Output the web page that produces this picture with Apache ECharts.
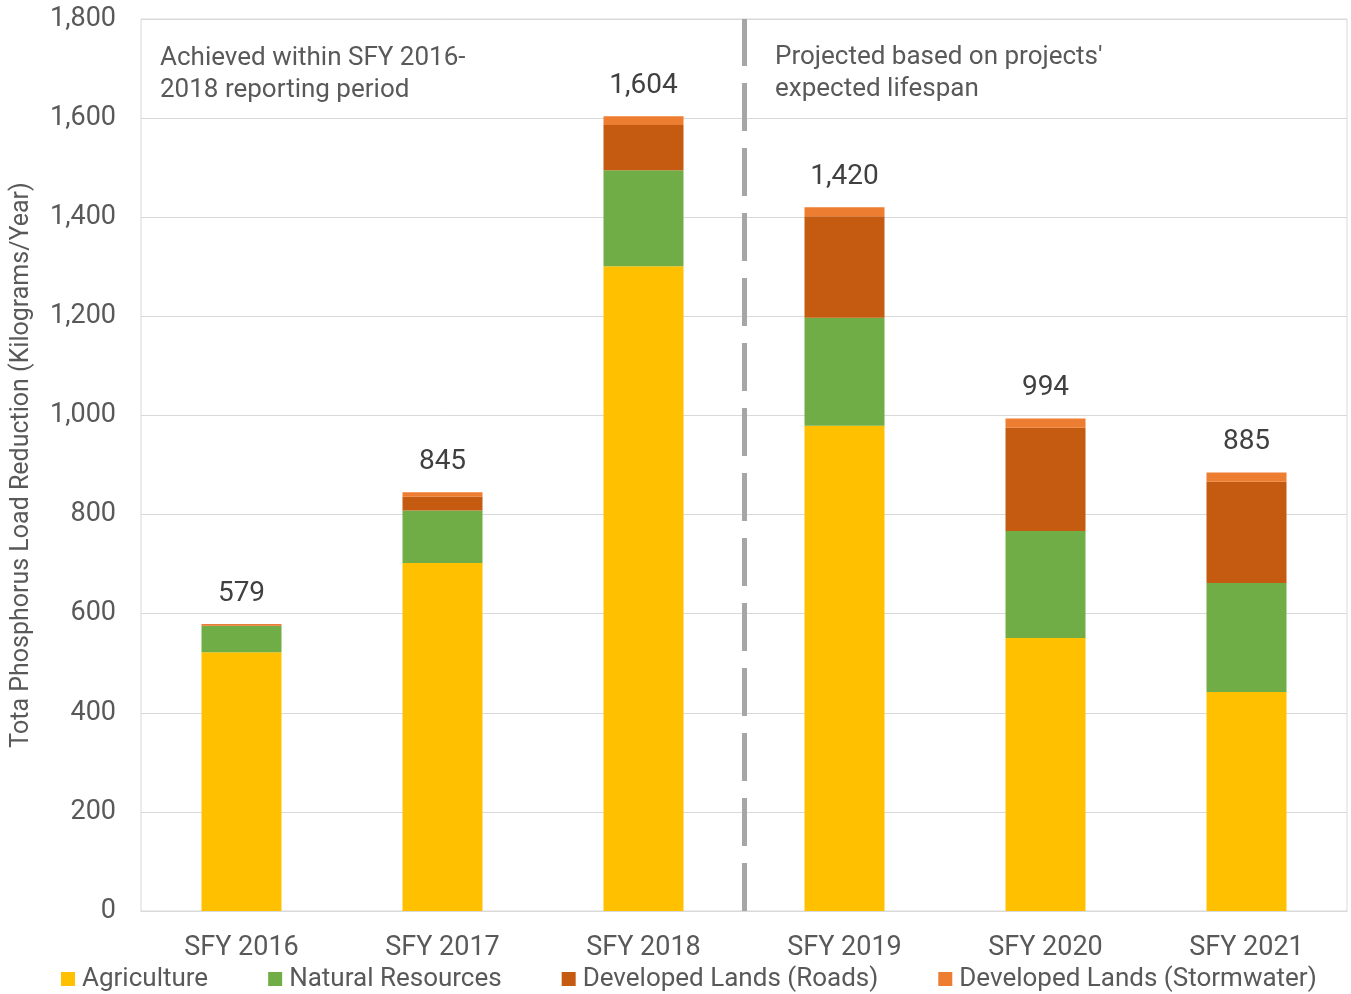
<!DOCTYPE html>
<html>
<head>
<meta charset="utf-8">
<script src="https://cdn.jsdelivr.net/npm/echarts@6/dist/echarts.min.js"></script>
<style>
html, body { margin: 0; padding: 0; background: #fff; }
#chart { width: 1351px; height: 994px; }
</style>
</head>
<body>
<div id="chart"></div>
<script>
// data
const years = ['SFY 2016', 'SFY 2017', 'SFY 2018', 'SFY 2019', 'SFY 2020', 'SFY 2021']
const agriculture = [522, 702, 1301, 979, 551, 442]
const naturalResources = [53, 106, 194, 218, 216, 220]
const roads = [1, 28, 91, 205, 208, 204]
const stormwater = [3, 9, 18, 18, 19, 19]
const totals = [579, 845, 1604, 1420, 994, 885]
const yTicks = [0, 200, 400, 600, 800, 1000, 1200, 1400, 1600, 1800]

const font = 'Roboto'

const chart = echarts.init(document.getElementById('chart'))

function barSeries(name, data, color, extra) {
    return Object.assign({
        name: name,
        type: 'bar',
        stack: 'total',
        data: data,
        barWidth: 80,
        itemStyle: { color: color },
        emphasis: { disabled: true }
    }, extra || {})
}

const options = {
    animation: false,
    textStyle: { fontFamily: font },
    grid: {
        left: 141,
        right: 4,
        top: 19,
        bottom: 83,
        show: true,
        borderColor: '#d9d9d9',
        borderWidth: 1
    },
    legend: {
        bottom: -3,
        left: 56,
        itemWidth: 14,
        itemHeight: 14,
        itemGap: 60,
        icon: 'rect',
        textStyle: { fontSize: 26, color: '#595959', padding: [0, 0, 0, 2] },
        data: ['Agriculture', 'Natural Resources', 'Developed Lands (Roads)', 'Developed Lands (Stormwater)']
    },
    xAxis: [
        {
            type: 'category',
            data: years,
            axisLine: { lineStyle: { color: '#d9d9d9', width: 1 } },
            axisTick: { show: false },
            axisLabel: { fontSize: 27, color: '#595959', margin: 24 }
        },
        {
            type: 'value',
            min: 0,
            max: 6,
            show: false
        }
    ],
    yAxis: {
        type: 'value',
        min: yTicks[0],
        max: yTicks[yTicks.length - 1],
        interval: 200,
        name: 'Tota Phosphorus Load Reduction (Kilograms/Year)',
        nameLocation: 'middle',
        nameGap: 107,
        nameTextStyle: { fontSize: 25, color: '#595959' },
        axisLine: { show: false },
        axisTick: { show: false },
        splitLine: { lineStyle: { color: '#d9d9d9', width: 1 } },
        axisLabel: {
            fontSize: 27,
            color: '#595959',
            margin: 25,
            padding: [7, 0, 0, 0],
            formatter: v => v.toLocaleString('en-US')
        }
    },
    series: [
        barSeries('Agriculture', agriculture, '#FFC000'),
        barSeries('Natural Resources', naturalResources, '#70AD47'),
        barSeries('Developed Lands (Roads)', roads, '#C55A11'),
        barSeries('Developed Lands (Stormwater)', stormwater, '#ED7D31', {
            label: {
                show: true,
                position: 'top',
                distance: 16,
                fontSize: 28,
                color: '#404040',
                formatter: p => totals[p.dataIndex].toLocaleString('en-US')
            }
        }),
        {
            // divider between achieved and projected years
            type: 'scatter',
            xAxisIndex: 1,
            data: [],
            silent: true,
            markLine: {
                symbol: 'none',
                silent: true,
                label: { show: false },
                lineStyle: { color: '#a6a6a6', width: 5, type: [48, 17] },
                data: [{ xAxis: 3 }]
            }
        }
    ],
    graphic: [
        {
            type: 'text',
            left: 160,
            top: 42,
            style: {
                text: 'Achieved within SFY 2016-\n2018 reporting period',
                font: '26px Roboto',
                lineHeight: 32,
                fill: '#595959'
            }
        },
        {
            type: 'text',
            left: 775,
            top: 41,
            style: {
                text: "Projected based on projects'\nexpected lifespan",
                font: '26px Roboto',
                lineHeight: 32,
                fill: '#595959'
            }
        }
    ]
}

chart.setOption(options)
</script>
</body>
</html>
